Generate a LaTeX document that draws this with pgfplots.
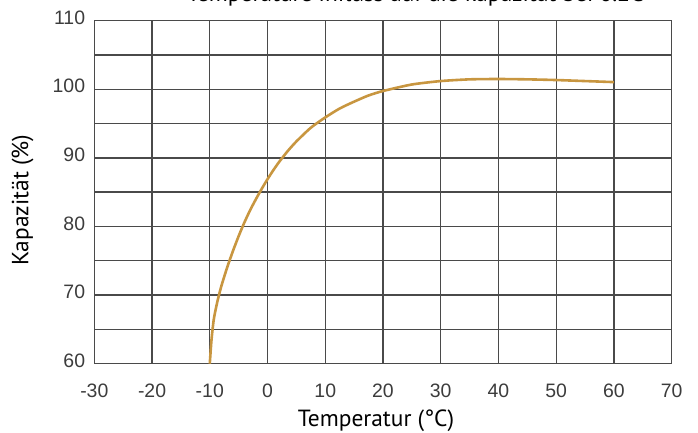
\documentclass[border=0pt]{standalone}
\usepackage{fontspec}
\setmainfont{PT Sans}
\newfontfamily\tickfont{Liberation Sans}
\usepackage{pgfplots}
\pgfplotsset{compat=1.18}
\definecolor{curve}{HTML}{C89640}
\definecolor{gridc}{HTML}{4A4A4A}
\definecolor{tickc}{HTML}{3C3C3C}
\begin{document}
\begin{tikzpicture}
\begin{axis}[
  at={(94.3bp,69.3bp)}, anchor=south west,
  scale only axis, width=577.4bp, height=343bp,
  xmin=-30, xmax=70, ymin=60, ymax=110,
  xtick={-30,-20,...,70},
  ytick={60,70,...,110},
  minor ytick={65,75,...,105},
  grid=both,
  major grid style={gridc, line width=1.4bp},
  minor grid style={gridc, line width=1.4bp},
  axis line style={gridc, line width=1.5bp},
  major tick length=0pt, minor tick length=0pt,
  /pgf/number format/assume math mode=true,
  ticklabel style={font=\fontsize{19.5}{22}\tickfont, text=tickc, inner sep=0pt},
  xticklabel style={anchor=north, yshift=-20bp},
  yticklabel style={anchor=east, xshift=-9bp, yshift=3bp},
  xlabel={Temperatur (°C)},
  ylabel={Kapazität (\%)},
  xlabel style={font=\fontsize{23.5}{26}\selectfont, anchor=base, at={(axis description cs:0.488,-0.1837)}},
  ylabel style={font=\fontsize{23.5}{26}\selectfont, anchor=south, at={(axis description cs:-0.0993,0.477)}},
  title={Temperature influss auf die kapazität bei 0.2C},
  title style={font=\fontsize{23.5}{26}\selectfont, anchor=base, at={(axis description cs:0.556,1.0385)}},
]
\addplot[curve, line width=2.6bp, smooth, tension=0.4] coordinates {
(-10,60) (-9.7,63.5) (-9.3,66.5) (-8.7,69) (-8.0,71.3) (-7.0,74) (-6.0,76.4)
(-5.0,78.6) (-4.0,80.6) (-3.0,82.4) (-2.0,84.0) (-1.0,85.5) (0,86.9)
(1.0,88.2) (2.0,89.4) (3.5,91.0) (5,92.4) (7.5,94.4) (10,95.9) (12.5,97.2)
(15,98.2) (17.5,99.1) (20,99.75) (25,100.7) (30,101.2) (35,101.45)
(40,101.5) (45,101.45) (50,101.35) (55,101.2) (60,101.05)
};
\end{axis}
\pgfresetboundingbox
\path (0,0) rectangle (698bp,433bp);
\end{tikzpicture}
\end{document}
